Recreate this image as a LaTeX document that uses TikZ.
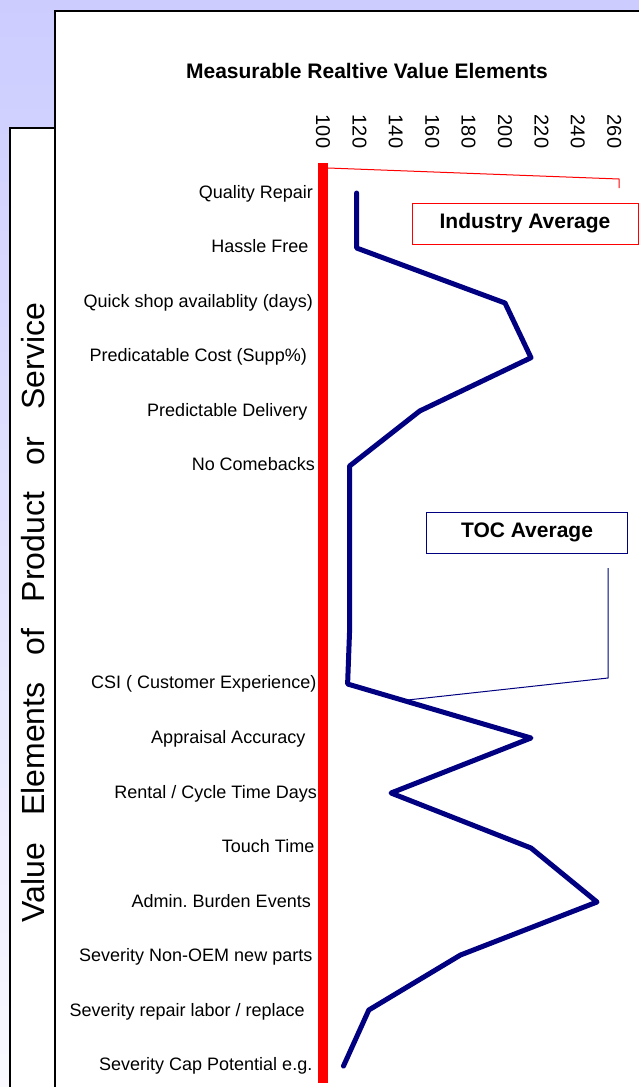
\documentclass[tikz,border=0pt]{standalone}
\usepackage{fontspec}
\setmainfont{Liberation Sans}
\usetikzlibrary{positioning}
\definecolor{lavender}{RGB}{204,204,255}
\definecolor{navyblue}{RGB}{0,0,128}
\newcommand{\fsz}[1]{\fontsize{#1}{#1}\selectfont}

\begin{document}
\begin{tikzpicture}[x=1pt,y=-1pt,
  panel/.style={draw=black,line width=2pt,fill=white},
  item/.style={anchor=base east,inner sep=0pt,font=\fsz{18}},
  tick/.style={rotate=-90,inner sep=0pt,font=\fsz{20}},
  legend/.style={draw,line width=1pt,inner sep=0pt,minimum width=#1,minimum height=41pt,font=\bfseries\fsz{21}},
  series/.style={navyblue,line width=5pt,line join=round,line cap=round}]
\useasboundingbox (0,0) rectangle (639,1087);
\shade[top color=lavender,bottom color=lavender!12!white] (0,0) rectangle (639,1087);
\draw[panel] (9.5,128) rectangle (55,1100);
\draw[panel] (55,11) rectangle (660,1100);
\node[font=\bfseries\fsz{21}] (title) at (367,71) {Measurable Realtive Value Elements};
% value axis
\foreach \v in {100,120,...,260}
  \node[tick] (tick\v) at ({323+1.82*(\v-100)},131.5) {\v};
\fill[red] (318,163) rectangle (328,1083);
\coordinate (base) at (328,168);
\coordinate (redbend) at (619,179);
\coordinate (redend) at (619,188);
\node[legend=226pt,draw=red] (industry) at (525,223.5) {Industry Average};
\draw[red,line width=1pt] (base) -- (redbend) -- (redend);
% value elements
\foreach \i/\txt/\xe in {0/Quality Repair/313,1/Hassle Free/308.5,2/Quick shop availablity (days)/313,
  3/Predicatable Cost (Supp\%)/307,4/Predictable Delivery/307.5,5/No Comebacks/315,
  9/CSI ( Customer Experience)/316.5,10/Appraisal Accuracy/305.5,11/{Rental / Cycle Time Days}/317,
  12/Touch Time/314.5,13/Admin.\ Burden Events/311,14/Severity Non-OEM new parts/312.5,
  15/{Severity repair labor / replace}/305,16/Severity Cap Potential e.g./312.5}
  \node[item] (item\i) at (\xe,{198+54.55*\i}) {\txt};
\draw[series] (356.6,193) -- (356.6,248) -- (505,303) -- (531,357.7) -- (419.7,411)
  -- (349.6,466) -- (349.6,520) -- (349.6,575) -- (349.6,630) -- (347.6,684)
  -- (531,738) -- (391,793) -- (531,848) -- (597,902) -- (460.5,955)
  -- (368.8,1010) -- (343.5,1066);
\node[legend=201pt,draw=navyblue] (toc) at (527,532.5) {TOC Average};
\coordinate (tocend) at (608,568);
\coordinate (tocbend) at (608,678);
\coordinate (tocpoint) at (407.5,700);
\draw[navyblue,line width=1pt] (tocend) -- (tocbend) -- (tocpoint);
\node[rotate=90,inner sep=0pt,font=\fsz{32}] (elements) at (33,612.5)
  {\makebox[619pt][s]{Value Elements of Product or Service}};
\end{tikzpicture}
\end{document}
